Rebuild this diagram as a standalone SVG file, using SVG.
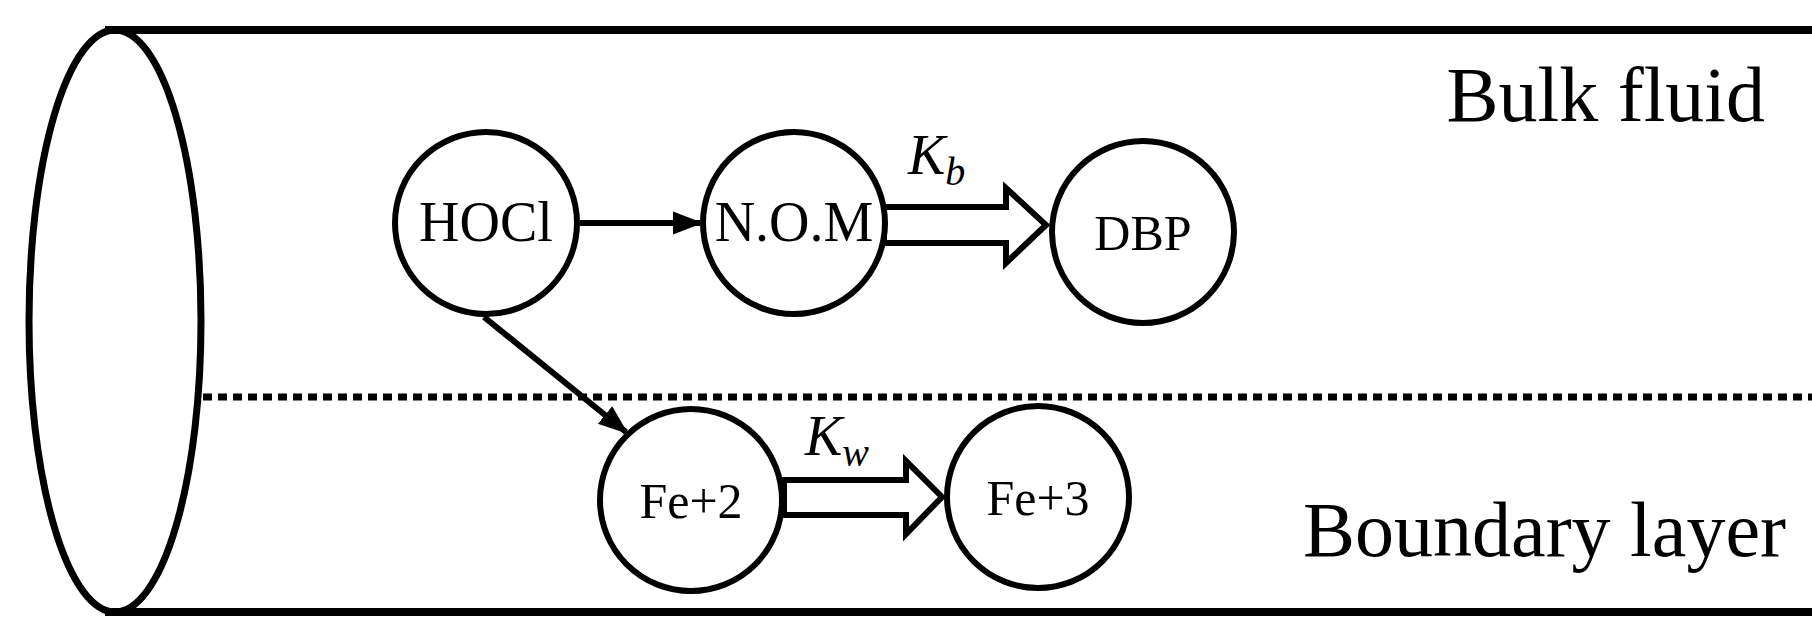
<svg xmlns="http://www.w3.org/2000/svg" width="1812" height="638" viewBox="0 0 1812 638">
<style>
.s{fill:none;stroke:#000}
.n{fill:#fff;stroke:#000;stroke-width:6}
text{font-family:"Liberation Serif","Times New Roman",serif;fill:#000}
.t{font-size:56px;text-anchor:middle}
.u{font-size:50px;text-anchor:middle}
.big{font-size:78px;text-anchor:end}
.k{font-size:56px;font-style:italic}
.h{fill:#fff;stroke:#000;stroke-width:6;stroke-linejoin:miter}
</style>
<defs>
<marker id="a" markerWidth="5" markerHeight="5" refX="4.5" refY="2.5" orient="auto" markerUnits="strokeWidth"><path d="M0,0.6 L5,2.5 L0,4.4 Z" fill="#000"/></marker>
</defs>
<g id="pipe">
<line class="s" x1="105" y1="30" x2="1812" y2="30" stroke-width="8"/>
<line class="s" x1="105" y1="612" x2="1812" y2="612" stroke-width="8"/>
<line class="s" x1="203" y1="397" x2="1812" y2="397" stroke-width="7" stroke-dasharray="9 6"/>
<ellipse class="s" cx="115" cy="321" rx="86" ry="291" stroke-width="7"/>
</g>
<text class="big" x="1765" y="121">Bulk fluid</text>
<text class="big" x="1786" y="556">Boundary layer</text>
<g id="connectors">
<line class="s" x1="580" y1="223" x2="700" y2="223" stroke-width="6" marker-end="url(#a)"/>
<line class="s" x1="484" y1="317" x2="626" y2="432" stroke-width="6" marker-end="url(#a)"/>
<path class="h" d="M884,207 L1006,207 L1006,188 L1046,225 L1006,263 L1006,243 L884,243 Z"/>
<path class="h" d="M784,480 L906,480 L906,461 L942,497 L906,534 L906,515 L784,515 Z"/>
<text class="k" x="908" y="174">K<tspan font-size="40" dy="11">b</tspan></text>
<text class="k" x="805" y="455">K<tspan font-size="40" dy="11">w</tspan></text>
</g>
<g id="HOCl"><circle class="n" cx="486" cy="223" r="91"/><text class="t" x="486" y="241">HOCl</text></g>
<g id="NOM"><circle class="n" cx="794" cy="223" r="91"/><text class="t" x="794" y="241">N.O.M</text></g>
<g id="DBP"><circle class="n" cx="1143" cy="232" r="91"/><text class="u" x="1143" y="250">DBP</text></g>
<g id="Fe2"><circle class="n" cx="691" cy="500" r="91"/><text class="u" x="691" y="518">Fe+2</text></g>
<g id="Fe3"><circle class="n" cx="1038" cy="497" r="91"/><text class="u" x="1038" y="515">Fe+3</text></g>
</svg>
